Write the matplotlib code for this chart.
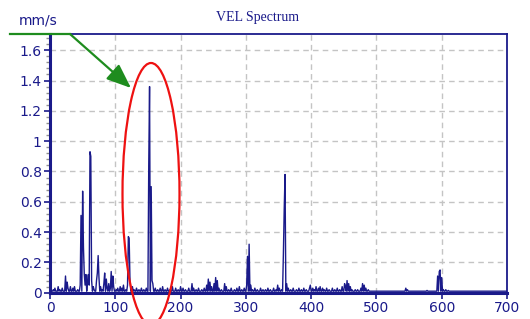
import numpy as np
import matplotlib
matplotlib.use("Agg")
import matplotlib.pyplot as plt
from matplotlib.patches import Ellipse
from matplotlib.lines import Line2D

# spectrum peaks (frequency, mm/s)
peak_freqs = [5, 8, 12, 15, 19, 24, 26, 28, 31, 35, 38, 42, 46,
              48, 49.5, 51, 52.5, 54, 55.5, 57, 58.5, 60, 61.3, 62.5, 64, 66, 68,
              71, 72.5, 74, 75.5, 77, 80, 82, 84, 86, 88, 90, 92, 94, 96, 98,
              101, 104, 107, 110, 113, 116, 119, 120, 121.5, 123, 126, 129, 132,
              136, 140, 144, 148, 151.5, 153, 154.5, 156, 158, 161, 165, 169, 173,
              176, 180, 184, 188, 192, 196, 200, 204, 208, 213, 217, 220, 224, 228,
              232, 236, 240, 243, 245, 248, 251, 254, 256, 259, 263, 267, 270, 274,
              278, 282, 286, 290, 294, 298, 301, 303, 305.5, 307, 310, 314, 318,
              322, 326, 330, 334, 338, 342, 346, 349, 351, 355, 357.5, 359, 360.5,
              362, 365, 369, 373, 377, 381, 385, 389, 393, 397, 399, 402, 405, 408,
              411, 414, 417, 420, 424, 428, 432, 436, 440, 444, 448, 451, 453, 455,
              457, 460, 463, 467, 471, 476, 479, 481, 484, 488, 545, 547, 577, 594,
              596, 597.5, 599.5, 602, 606, 610]
peak_amps = [0.02, 0.03, 0.04, 0.02, 0.03, 0.11, 0.07, 0.03, 0.04, 0.03, 0.04, 0.02, 0.05,
             0.51, 0.67, 0.30, 0.12, 0.05, 0.12, 0.08, 0.12, 0.05, 0.93, 0.90, 0.08, 0.04, 0.02,
             0.08, 0.13, 0.245, 0.10, 0.04, 0.02, 0.06, 0.13, 0.09, 0.03, 0.06, 0.03, 0.14, 0.11, 0.04,
             0.02, 0.03, 0.04, 0.03, 0.05, 0.02, 0.05, 0.37, 0.36, 0.08, 0.04, 0.02, 0.03,
             0.02, 0.03, 0.02, 0.03, 0.84, 1.36, 0.70, 0.08, 0.06, 0.03, 0.02, 0.03, 0.04,
             0.02, 0.03, 0.02, 0.04, 0.03, 0.02, 0.04, 0.03, 0.02, 0.03, 0.06, 0.03, 0.02, 0.03,
             0.02, 0.03, 0.05, 0.09, 0.07, 0.04, 0.06, 0.10, 0.08, 0.03, 0.02, 0.06, 0.04, 0.02,
             0.03, 0.02, 0.03, 0.04, 0.02, 0.03, 0.05, 0.24, 0.32, 0.05, 0.02, 0.03, 0.02,
             0.03, 0.02, 0.02, 0.03, 0.02, 0.03, 0.02, 0.05, 0.03, 0.02, 0.26, 0.55, 0.78,
             0.06, 0.03, 0.02, 0.03, 0.02, 0.03, 0.02, 0.03, 0.02, 0.03, 0.05, 0.03, 0.02, 0.04,
             0.03, 0.04, 0.03, 0.02, 0.03, 0.02, 0.03, 0.02, 0.03, 0.02, 0.04, 0.06, 0.04, 0.08,
             0.06, 0.04, 0.02, 0.02, 0.02, 0.03, 0.06, 0.05, 0.03, 0.02, 0.03, 0.02, 0.015, 0.11,
             0.14, 0.15, 0.10, 0.02, 0.02, 0.015]
baseline = 0.01
resolution = 1.25
f_max = 700

x_ticks = [0, 100, 200, 300, 400, 500, 600, 700]
y_ticks = [0, 0.2, 0.4, 0.6, 0.8, 1, 1.2, 1.4, 1.6]

navy = "#1a1a8a"

freqs = np.arange(0, f_max, resolution)
amps = np.full(len(freqs), baseline)
for f, a in zip(peak_freqs, peak_amps):
    amps[int(round(f / resolution))] = a

fig = plt.figure(figsize=(5.30, 3.19), dpi=100)
ax = fig.add_axes([50 / 530, 1 - 292.7 / 319, 457 / 530, 258.4 / 319])

ax.plot(freqs, amps, color=navy, lw=1.0)

ax.set_xlim(0, 700)
ax.set_ylim(0, 1.705)
ax.set_xticks(x_ticks)
ax.set_yticks(y_ticks)
ax.set_yticklabels(["%g" % v for v in y_ticks])
ax.set_yticks(np.arange(0, 1.70, 0.04), minor=True)
ax.grid(True, color="#c4c4c4", linestyle=(0, (4, 3)), lw=1)

ax.tick_params(axis="both", colors=navy, labelsize=10, length=4, width=1.2)
ax.tick_params(axis="y", which="minor", colors="#909090", length=3, width=1)
ax.tick_params(axis="x", pad=2)
ax.tick_params(axis="y", pad=2)

for side in ["left", "bottom"]:
    ax.spines[side].set_color(navy)
    ax.spines[side].set_linewidth(2.2)
for side in ["top", "right"]:
    ax.spines[side].set_color(navy)
    ax.spines[side].set_linewidth(1.3)

fig.text(258 / 530, 1 - 17 / 319, "VEL Spectrum", ha="center", va="center",
         fontsize=10, family="Liberation Serif", color=navy)
fig.text(19 / 530, 1 - 20 / 319, "mm/s", ha="left", va="center",
         fontsize=10, color=navy)

# green pointer
green = "#1e8c1e"
fig.add_artist(Line2D([10 / 530, 70 / 530], [1 - 34 / 319, 1 - 34 / 319],
                      transform=fig.transFigure, color=green, lw=1.6))
ax.annotate("", xy=(131 / 530, 1 - 88 / 319), xycoords="figure fraction",
            xytext=(70 / 530, 1 - 34 / 319), textcoords="figure fraction",
            arrowprops=dict(arrowstyle="-|>,head_length=1.5,head_width=0.6",
                            color=green, lw=1.6, shrinkA=0, shrinkB=0),
            annotation_clip=False)

# red circle around the main peak
fig.add_artist(Ellipse((151 / 530, 1 - 194 / 319), 57 / 530, 262 / 319,
                       transform=fig.transFigure, fill=False, ec="#ee1111", lw=1.6))

fig.savefig("out.png", dpi=100)
